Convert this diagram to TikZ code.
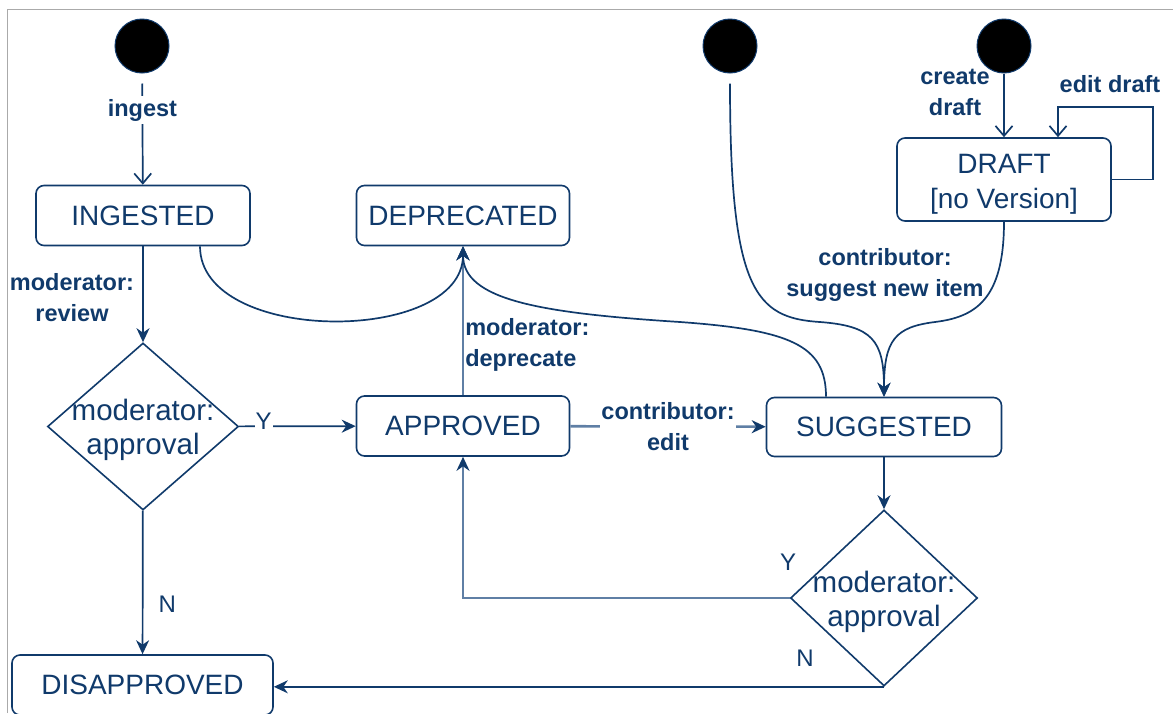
\documentclass[tikz,border=0pt]{standalone}
\usepackage{fontspec}
\setmainfont{Liberation Sans}
\usetikzlibrary{arrows.meta,shapes.geometric}
\definecolor{navy}{RGB}{16,58,107}
\definecolor{steel}{RGB}{95,127,165}
\definecolor{framegray}{RGB}{170,170,170}

\begin{document}
\begin{tikzpicture}[x=1pt,y=-1pt,
  every node/.style={text=navy},
  stbox/.style={draw=navy, line width=1.6pt, rounded corners=8pt, fill=white,
    inner sep=0pt, align=center, font=\fontsize{28}{35}\selectfont},
  initstate/.style={circle, fill=black, draw=navy, line width=1pt,
    minimum size=54pt, inner sep=0pt},
  choice/.style={diamond, draw=navy, line width=1.6pt, inner sep=0pt},
  choicetext/.style={align=center, inner sep=0pt, font=\fontsize{29.5}{34}\selectfont},
  elabel/.style={align=center, inner sep=1pt, font=\bfseries\fontsize{23.5}{31}\selectfont},
  yn/.style={inner sep=1pt, font=\fontsize{24}{28}\selectfont},
  arrowline/.style={draw=navy, line width=1.7pt,
    -{Stealth[length=14pt,width=13pt,inset=4.5pt]}},
  soft/.style={draw=steel, line width=2.6pt,
    -{Stealth[length=14pt,width=13pt,inset=4.5pt,color=navy]}},
  openline/.style={draw=navy, line width=1.7pt,
    -{Straight Barb[length=10pt,width=17pt]}},
]
\useasboundingbox (0,0) rectangle (1173,713);

% page frame
\draw[framegray, line width=1pt] (7,713) -- (7,9) -- (1173,9);

% initial states
\node[initstate] (s1) at (142,46) {};
\node[initstate] (s2) at (730,46) {};
\node[initstate] (s3) at (1004,46) {};

% states
\node[stbox, minimum width=214pt, minimum height=60pt] (ingested) at (143,215.5) {INGESTED};
\node[stbox, minimum width=213pt, minimum height=60pt] (deprecated) at (463,215.5) {DEPRECATED};
\node[stbox, minimum width=214pt, minimum height=83pt] (draft) at (1004,179.5)
  {\rule{0pt}{29pt}DRAFT\\{[no Version]}};
\node[stbox, minimum width=213pt, minimum height=60pt] (approved) at (463,426) {APPROVED};
\node[stbox, minimum width=235pt, minimum height=59pt] (suggested) at (884,427) {SUGGESTED};
\node[stbox, minimum width=261pt, minimum height=60pt] (disapproved) at (142.5,685) {DISAPPROVED};

% decisions
\node[choice, minimum width=191pt, minimum height=167pt] (d1) at (143,426.5) {};
\node[choicetext] (d1t) at (143,430) {moderator:\\approval};
\node[choice, minimum width=187pt, minimum height=176pt] (d2) at (884,598) {};
\node[choicetext] (d2t) at (884,602) {moderator:\\approval};

% ingest
\draw[openline, shorten <=10pt] (s1) --
  node[elabel, pos=0.33, fill=white, inner sep=3pt] (inglbl) {ingest} (ingested);

% draft creation and editing
\draw[openline] (s3) -- (draft);
\node[elabel] (createlbl) at (955,92) {create\\draft};
\coordinate (loopR) at (1153,107);
\draw[openline] (draft.east) -| (loopR) -| ([xshift=54pt]draft.north);
\node[elabel] (editlbl) at (1110,84) {edit draft};

% review of ingested items
\draw[arrowline] (ingested) -- (d1);
\node[elabel] (reviewlbl) at (72,298) {moderator:\\review};
\draw[arrowline] (d1) -- node[yn, pos=0.21, fill=white, yshift=5pt] (y1) {Y} (approved);
\draw[arrowline] (d1) -- node[yn, pos=0.655, right, xshift=14pt] (n1) {N} (disapproved);

% deprecation
\draw[soft] (approved) --
  node[elabel, pos=0.34, right, align=left] (deplbl) {moderator:\\deprecate} (deprecated);
\draw[arrowline] ([xshift=57pt]ingested.south) .. controls (200,345) and (463,345) .. (deprecated.south);
\draw[arrowline] ([xshift=-58pt]suggested.north) .. controls (826,345) and (790,330) .. (680,322)
  .. controls (540,313) and (463,300) .. (deprecated.south);

% suggestions
\draw[arrowline, shorten <=10pt] (s2) .. controls (730,290) and (755,318) .. (820,322)
  .. controls (872,326) and (884,340) .. (suggested.north);
\draw[arrowline] (draft.south) .. controls (1004,300) and (975,317) .. (935,322)
  .. controls (895,327) and (884,340) .. (suggested.north);
\node[elabel] (suglbl) at (885,275) {contributor:\\suggest new item};
\draw[soft] (approved) -- node[elabel, fill=white] (editlbl2) {contributor:\\edit} (suggested);

% moderation of suggestions
\draw[arrowline] (suggested) -- (d2);
\draw[soft] (d2.west) -| (approved.south);
\node[yn] (y2) at (788,562) {Y};
\draw[arrowline] (d2.south) -- (d2.south -| disapproved.east);
\node[yn] (n2) at (805,658) {N};
\end{tikzpicture}
\end{document}
